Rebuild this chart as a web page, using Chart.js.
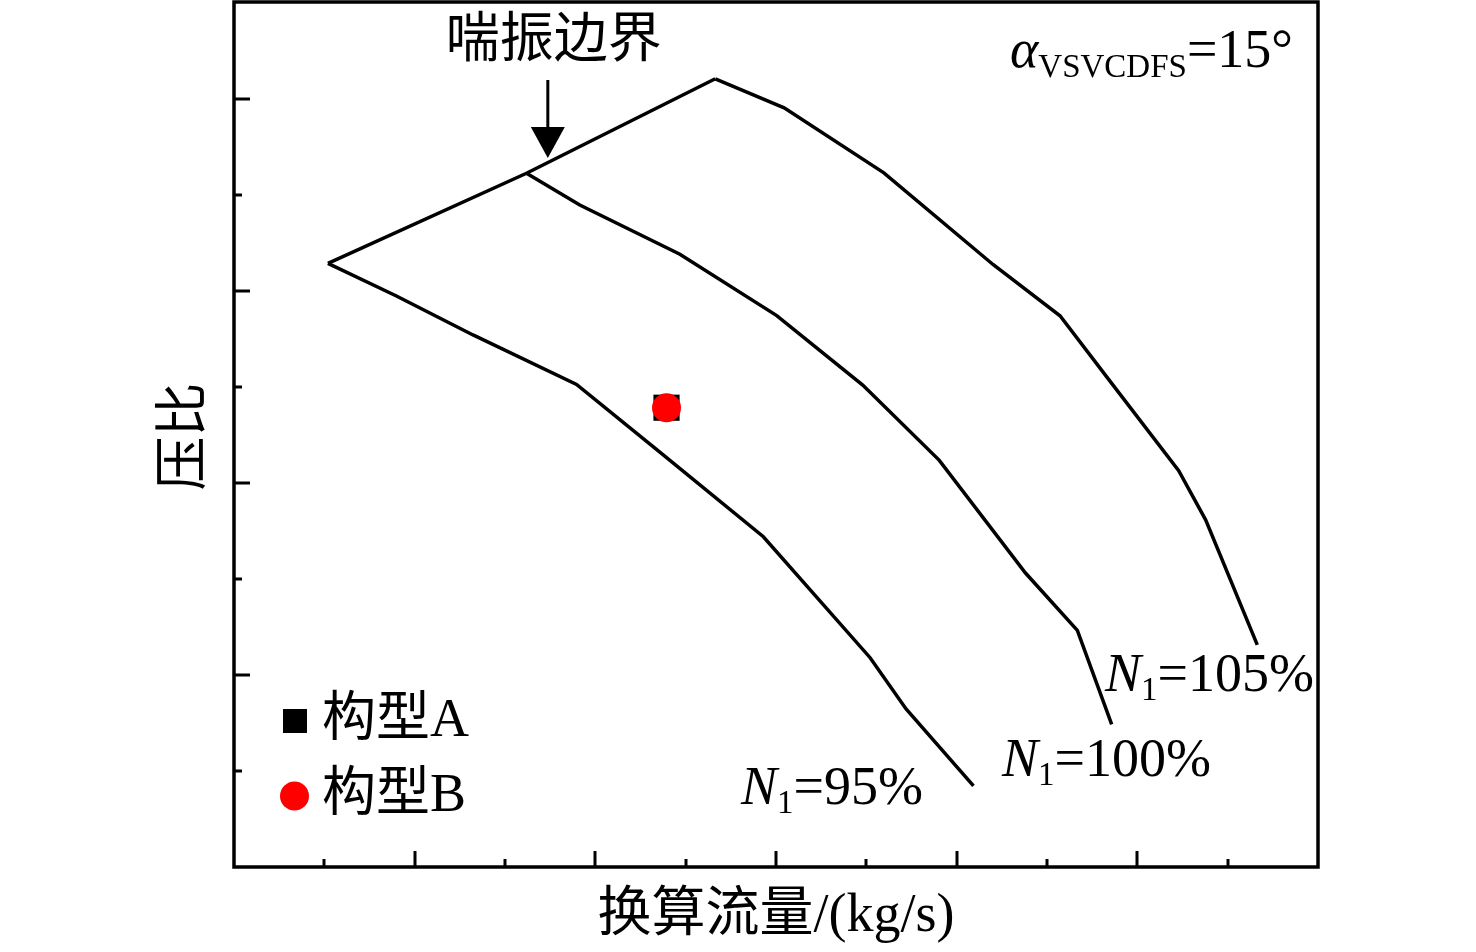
<!DOCTYPE html>
<html>
<head>
<meta charset="utf-8">
<script src="https://cdn.jsdelivr.net/npm/chart.js@4.4.1/dist/chart.umd.min.js"></script>
<style>
  html, body { margin: 0; padding: 0; background: #fff; }
  canvas { display: block; }
</style>
</head>
<body>
<canvas id="chart" width="1476" height="952" style="width:1476px;height:952px"></canvas>
<script>
// speed lines (corrected mass flow vs pressure ratio, axis units unlabeled in source)
const n95_flow = [0.520, 0.899, 1.323, 1.896, 2.357, 2.930, 3.521, 3.720, 4.093];
const n95_pr = [3.144, 2.974, 2.771, 2.513, 2.161, 1.720, 1.090, 0.823, 0.422];

const n100_flow = [1.619, 1.914, 2.468, 3.004, 3.480, 3.904, 4.381, 4.668, 4.858];
const n100_pr = [3.613, 3.448, 3.191, 2.872, 2.510, 2.118, 1.531, 1.232, 0.743];

const n105_flow = [2.664, 3.045, 3.597, 4.201, 4.572, 4.839, 5.229, 5.378, 5.664];
const n105_pr = [4.105, 3.954, 3.615, 3.138, 2.871, 2.542, 2.064, 1.808, 1.157];

// surge line joins the first point of each speed line
const surge_flow = [0.520, 1.619, 2.664];
const surge_pr = [3.144, 3.613, 4.105];

// design points
const configA = { flow: 2.394, pr: 2.392 };
const configB = { flow: 2.394, pr: 2.392 };

// unlabeled tick positions
const xTickValues = [0.5, 1, 1.5, 2, 2.5, 3, 3.5, 4, 4.5, 5, 5.5];
const yTickValues = [0.5, 1, 1.5, 2, 2.5, 3, 3.5, 4];

const SERIF = '"Liberation Serif", "Noto Sans CJK SC", serif';

/**
 * zips two arrays into {x, y} points
 */
function toPoints(xs, ys) {
    return xs.map(function (x, i) { return { x: x, y: ys[i] }; });
}

function lineSet(label, xs, ys) {
    return {
        label: label,
        data: toPoints(xs, ys),
        showLine: true,
        borderColor: '#000',
        borderWidth: 3.5,
        pointRadius: 0,
        tension: 0,
        fill: false,
        order: 2
    };
}

/**
 * draws a sequence of text runs (italic / subscript pieces) from x on baseline y
 */
function drawRuns(ctx, x, y, runs) {
    ctx.textBaseline = 'alphabetic';
    ctx.textAlign = 'left';
    runs.forEach(function (r) {
        ctx.font = (r.italic ? 'italic ' : '') + (r.size || 54) + 'px ' + SERIF;
        ctx.fillText(r.t, x, y + (r.dy || 0));
        x += ctx.measureText(r.t).width;
    });
}

const decorPlugin = {
    id: 'decor',
    afterDraw: function (chart) {
        const ctx = chart.ctx;
        const area = chart.chartArea;
        const xs = chart.scales.x;
        const ys = chart.scales.y;
        ctx.save();
        ctx.fillStyle = '#000';
        ctx.strokeStyle = '#000';

        // frame
        ctx.lineWidth = 3.5;
        ctx.strokeRect(area.left, area.top, area.right - area.left, area.bottom - area.top);

        // inward ticks
        ctx.lineWidth = 3;
        ctx.beginPath();
        xTickValues.forEach(function (v) {
            const px = Math.round(xs.getPixelForValue(v));
            const len = Number.isInteger(v) ? 16 : 8;
            ctx.moveTo(px, area.bottom);
            ctx.lineTo(px, area.bottom - len);
        });
        yTickValues.forEach(function (v) {
            const py = Math.round(ys.getPixelForValue(v));
            const len = Number.isInteger(v) ? 16 : 8;
            ctx.moveTo(area.left, py);
            ctx.lineTo(area.left + len, py);
        });
        ctx.stroke();

        // axis titles
        ctx.font = '54px ' + SERIF;
        ctx.textAlign = 'center';
        ctx.textBaseline = 'middle';
        ctx.fillText('换算流量/(kg/s)', (area.left + area.right) / 2, 917);
        ctx.save();
        ctx.translate(187, (area.top + area.bottom) / 2 + 2);
        ctx.rotate(-Math.PI / 2);
        ctx.fillText('压比', 0, 0);
        ctx.restore();

        // surge annotation with arrow
        const tipX = xs.getPixelForValue(1.737);
        const tipY = ys.getPixelForValue(3.693);
        ctx.fillText('喘振边界', tipX + 6, 43);
        ctx.lineWidth = 3;
        ctx.beginPath();
        ctx.moveTo(tipX, 80);
        ctx.lineTo(tipX, tipY - 28);
        ctx.stroke();
        ctx.beginPath();
        ctx.moveTo(tipX, tipY);
        ctx.lineTo(tipX - 17, tipY - 31);
        ctx.lineTo(tipX + 17, tipY - 31);
        ctx.closePath();
        ctx.fill();

        // speed labels
        drawRuns(ctx, 1105, 691, [{ t: 'N', italic: true }, { t: '1', size: 33, dy: 9 }, { t: '=105%' }]);
        drawRuns(ctx, 1002, 776, [{ t: 'N', italic: true }, { t: '1', size: 33, dy: 9 }, { t: '=100%' }]);
        drawRuns(ctx, 741, 804, [{ t: 'N', italic: true }, { t: '1', size: 33, dy: 9 }, { t: '=95%' }]);

        // guide vane angle
        drawRuns(ctx, 1010, 67, [{ t: 'α', italic: true }, { t: 'VSVCDFS', size: 33, dy: 10 }, { t: '=15°' }]);

        // legend
        const dsA = chart.data.datasets[1];
        const dsB = chart.data.datasets[0];
        ctx.fillStyle = dsA.backgroundColor;
        ctx.fillRect(283, 709, 24, 24);
        ctx.fillStyle = dsB.backgroundColor;
        ctx.beginPath();
        ctx.arc(294.5, 796, 14.5, 0, Math.PI * 2);
        ctx.fill();
        ctx.fillStyle = '#000';
        ctx.font = '54px ' + SERIF;
        ctx.textAlign = 'left';
        ctx.textBaseline = 'middle';
        ctx.fillText(dsA.label, 322, 722);
        ctx.fillText(dsB.label, 322, 797);

        ctx.restore();
    }
};

const config = {
    type: 'scatter',
    data: {
        datasets: [
            {
                label: '构型B',
                data: [{ x: configB.flow, y: configB.pr }],
                pointStyle: 'circle',
                pointRadius: 14.5,
                backgroundColor: '#ff0000',
                borderColor: '#ff0000',
                borderWidth: 0,
                order: 0
            },
            {
                label: '构型A',
                data: [{ x: configA.flow, y: configA.pr }],
                pointStyle: 'rect',
                pointRadius: 18.5,
                backgroundColor: '#000',
                borderColor: '#000',
                borderWidth: 0,
                order: 1
            },
            lineSet('N1=95%', n95_flow, n95_pr),
            lineSet('N1=100%', n100_flow, n100_pr),
            lineSet('N1=105%', n105_flow, n105_pr),
            lineSet('surge', surge_flow, surge_pr)
        ]
    },
    options: {
        responsive: false,
        animation: false,
        devicePixelRatio: 1,
        layout: { autoPadding: false, padding: { left: 234, right: 158, top: 2, bottom: 85 } },
        plugins: {
            legend: { display: false },
            tooltip: { enabled: false }
        },
        scales: {
            x: { type: 'linear', display: false, min: 0, max: 6 },
            y: { type: 'linear', display: false, min: 0, max: 4.505 }
        }
    },
    plugins: [decorPlugin]
};

const chart = new Chart(document.getElementById('chart').getContext('2d'), config);
</script>
</body>
</html>
